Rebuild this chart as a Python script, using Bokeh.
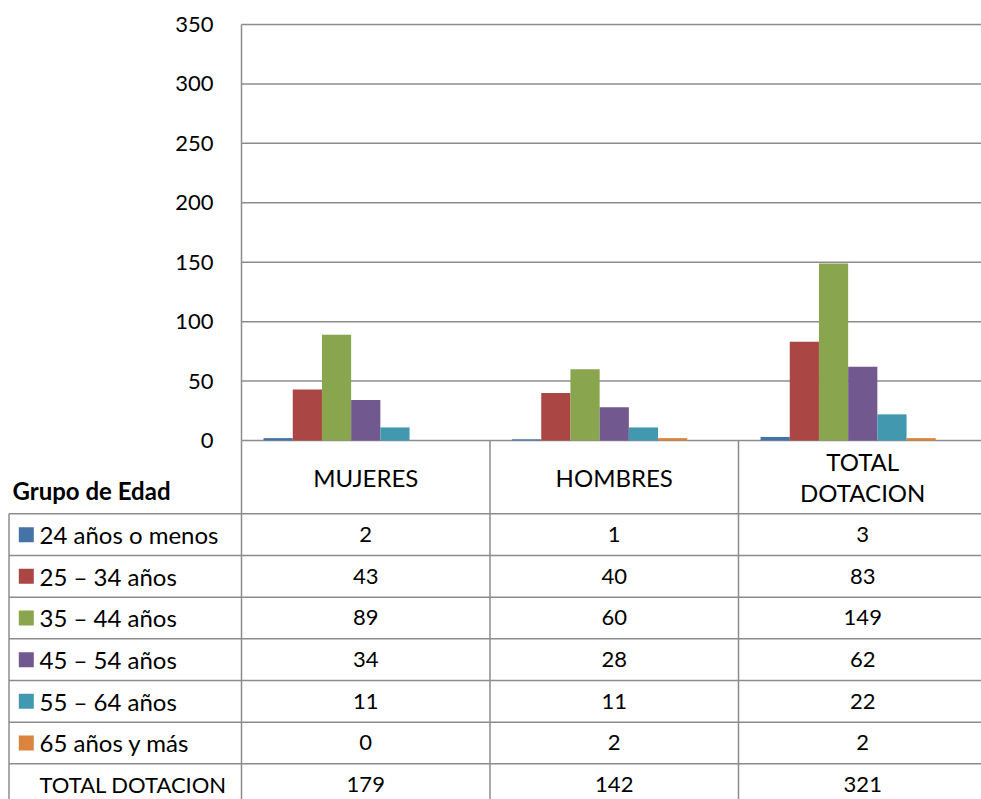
from bokeh.plotting import figure
from bokeh.models import Range1d, FixedTicker
from bokeh.embed import file_html
from bokeh.resources import INLINE
from bokeh.core.properties import value

# ---------------- data ----------------
categories = ["MUJERES", "HOMBRES", "TOTAL\nDOTACION"]
series_names = ["24 años o menos", "25 – 34 años", "35 – 44 años",
                "45 – 54 años", "55 – 64 años", "65 años y más"]
mujeres = [2, 43, 89, 34, 11, 0]
hombres = [1, 40, 60, 28, 11, 2]
total_dotacion = [3, 83, 149, 62, 22, 2]
totals = [179, 142, 321]
total_label = "TOTAL DOTACION"
table_title = "Grupo de Edad"
y_ticks = [0, 50, 100, 150, 200, 250, 300, 350]
colors = ["#4572A7", "#AA4643", "#89A54E", "#71588F", "#4198AF", "#DB843D"]

# ---------------- layout constants (pixels) ----------------
FONT = "Lato"
FS = "24px"
FS_NUM = "22px"
W, H = 981, 799
LEFT = 241            # px from canvas left to the value axis
ZERO_Y = 440          # px from canvas top to the value 0
CAT_PX = 248.5        # px per category column
PXY = 416.0 / 350.0   # px per value unit
ROW_PX = 41.67
HDR_PX = 73.3
LINE = "#8c8c8c"
BW = 29.2 / CAT_PX    # bar width in category units
n_series = len(series_names) + 1  # last (total) series is invisible

x_start = -LEFT / CAT_PX
x_end = (W - LEFT) / CAT_PX
y_top = ZERO_Y / PXY
y_bot = -(H - ZERO_Y) / PXY


def px_x(px):
    return x_start + px / CAT_PX


def below(px):
    return -px / PXY


p = figure(width=W, height=H, output_backend="svg", toolbar_location=None,
           x_range=Range1d(x_start, x_end), y_range=Range1d(y_bot, y_top),
           x_axis_location=None,
           min_border_left=0, min_border_right=0,
           min_border_top=0, min_border_bottom=0)
p.outline_line_color = None
p.grid.visible = False

ax = p.yaxis[0]
ax.fixed_location = 0
ax.bounds = (y_ticks[0], y_ticks[-1])
ax.ticker = FixedTicker(ticks=y_ticks)
ax.major_tick_out = 0
ax.major_tick_in = 0
ax.minor_tick_out = 0
ax.minor_tick_in = 0
ax.axis_line_color = LINE
ax.axis_line_width = 1.5
ax.major_label_standoff = 28
ax.major_label_text_font = FONT
ax.major_label_text_font_size = FS_NUM
ax.major_label_text_color = "black"

# horizontal gridlines at ticks
p.segment(x0=[0] * len(y_ticks), x1=[x_end] * len(y_ticks), y0=y_ticks, y1=y_ticks,
          line_color=LINE, line_width=1.5)

# bars
series_vals = [list(v) for v in zip(mujeres, hombres, total_dotacion)]
for i, vals in enumerate(series_vals):
    off = (i - (n_series - 1) / 2) * BW
    xs = [c + 0.5 + off for c in range(len(categories))]
    p.vbar(x=xs, top=vals, bottom=0, width=BW, fill_color=colors[i], line_color=None)

# ---------------- data table ----------------
n_rows = len(series_names) + 1
left_border = px_x(8.5)
hdr_bottom = below(HDR_PX)
row_u = ROW_PX / PXY
hy = [hdr_bottom - k * row_u for k in range(n_rows + 1)]
p.segment(x0=[left_border] * len(hy), x1=[x_end] * len(hy), y0=hy, y1=hy,
          line_color=LINE, line_width=1.5)
vx = [float(c) for c in range(len(categories) + 1)]
p.segment(x0=vx, x1=vx, y0=[0] * len(vx), y1=[y_bot] * len(vx),
          line_color=LINE, line_width=1.5)
p.segment(x0=[left_border], x1=[left_border], y0=[hdr_bottom], y1=[y_bot],
          line_color=LINE, line_width=1.5)

# header texts
p.text(x=[c + 0.5 for c in range(len(categories))], y=[hdr_bottom / 2] * len(categories),
       text=categories, text_align="center", text_baseline="middle",
       text_font=value(FONT), text_font_size=FS, text_color="black",
       text_line_height=1.06)
p.text(x=[px_x(12)], y=[below(50)], text=[table_title],
       text_align="left", text_baseline="middle", text_font=value(FONT),
       text_font_size=FS, text_font_style="bold", text_color="black")

row_y = [hdr_bottom - (k + 0.5) * row_u for k in range(n_rows)]
# legend keys
p.scatter(x=[px_x(25.8)] * len(series_names), y=row_y[:len(series_names)],
          marker="square", size=15, fill_color=colors, line_color=None)
# row labels
p.text(x=[px_x(39)] * len(series_names), y=row_y[:len(series_names)],
       text=series_names, text_align="left", text_baseline="middle",
       text_font=value(FONT), text_font_size=FS, text_color="black")
p.text(x=[px_x(39)], y=[row_y[-1]],
       text=[total_label], text_align="left", text_baseline="middle",
       text_font=value(FONT), text_font_size="22px", text_color="black")
# values
table_cols = [mujeres + [totals[0]], hombres + [totals[1]], total_dotacion + [totals[2]]]
for c, colvals in enumerate(table_cols):
    p.text(x=[c + 0.5] * n_rows, y=row_y, text=[str(v) for v in colvals],
           text_align="center", text_baseline="middle", text_font=value(FONT),
           text_font_size=FS_NUM, text_color="black")

open("out.html", "w").write(file_html(p, INLINE))
